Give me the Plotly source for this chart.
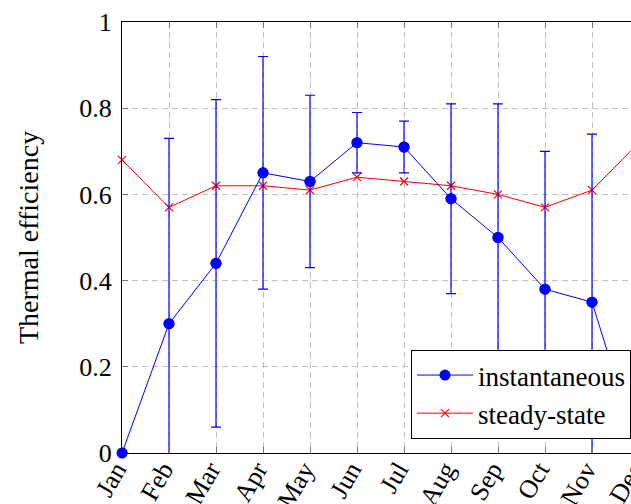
import plotly.graph_objects as go

months = ["Jan", "Feb", "Mar", "Apr", "May", "Jun", "Jul", "Aug", "Sep", "Oct", "Nov", "Dec"]
instantaneous = [0.00, 0.30, 0.44, 0.65, 0.63, 0.72, 0.71, 0.59, 0.50, 0.38, 0.35, 0.00]
inst_error = [0.00, 0.43, 0.38, 0.27, 0.20, 0.07, 0.06, 0.22, 0.31, 0.32, 0.39, 0.00]
steady_state = [0.68, 0.57, 0.62, 0.62, 0.61, 0.64, 0.63, 0.62, 0.60, 0.57, 0.61, 0.72]
y_ticks = [0, 0.2, 0.4, 0.6, 0.8, 1]
y_tick_labels = ["0", "0.2", "0.4", "0.6", "0.8", "1"]

FONT = "Liberation Serif"
BLUE = "#0000ff"
RED = "#ff0000"

xs = list(range(len(months)))

fig = go.Figure()

fig.add_trace(go.Scatter(
    x=xs, y=steady_state, mode="lines+markers", name="steady-state",
    line=dict(color=RED, width=1),
    marker=dict(symbol="x-thin", size=8, line=dict(color=RED, width=1.2), color=RED),
    cliponaxis=False,
))

fig.add_trace(go.Scatter(
    x=xs, y=instantaneous, mode="lines+markers", name="instantaneous",
    line=dict(color=BLUE, width=1),
    marker=dict(symbol="circle", size=11, color=BLUE),
    error_y=dict(type="data", array=inst_error, symmetric=True, color=BLUE, thickness=1.2, width=5),
    cliponaxis=True,
))

fig.add_trace(go.Scatter(
    x=xs, y=instantaneous, mode="markers", showlegend=False, hoverinfo="skip",
    marker=dict(symbol="circle", size=11, color=BLUE),
    cliponaxis=False,
))

fig.update_layout(
    width=660, height=504,
    margin=dict(l=122, r=21, t=22, b=51, autoexpand=False),
    paper_bgcolor="white", plot_bgcolor="white",
    font=dict(family=FONT, size=26, color="black"),
    legend=dict(
        x=0.9845, y=0.0325, xanchor="right", yanchor="bottom",
        bgcolor="white", bordercolor="black", borderwidth=1,
        font=dict(family=FONT, size=27),
        traceorder="reversed", itemwidth=56, tracegroupgap=0,
    ),
    showlegend=True,
)

fig.update_xaxes(
    range=[0, 11], tickvals=xs, ticktext=months, tickangle=-60,
    showline=True, linecolor="black", linewidth=1, mirror="allticks",
    ticks="inside", ticklen=6, tickcolor="#777777",
    showgrid=True, gridcolor="#c0c0c0", griddash="6px,4px", gridwidth=1,
    zeroline=False, automargin=False,
    tickfont=dict(family=FONT, size=26),
    ticklabelstandoff=-10, ticklabelshift=-6,
)

fig.update_yaxes(
    range=[0, 1], tickvals=y_ticks, ticktext=y_tick_labels,
    showline=True, linecolor="black", linewidth=1, mirror="allticks",
    ticks="inside", ticklen=6, tickcolor="#777777",
    showgrid=True, gridcolor="#c0c0c0", griddash="6px,4px", gridwidth=1,
    zeroline=False, automargin=False,
    tickfont=dict(family=FONT, size=26),
    title=dict(text="Thermal efficiency", font=dict(family=FONT, size=28), standoff=32),
    ticklabelstandoff=4,
)

fig.write_html(
    "out.html",
    config={"displayModeBar": False},
    post_script="document.body.style.margin='0';document.body.style.overflow='hidden';document.documentElement.style.overflow='hidden';",
)
